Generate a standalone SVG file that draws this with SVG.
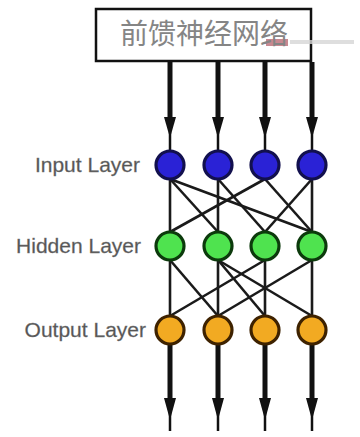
<svg xmlns="http://www.w3.org/2000/svg" width="360" height="437" viewBox="0 0 360 437">
  <style>
    .lbl { font-family: "Liberation Sans", Arial, sans-serif; font-size: 21px; fill: #555555; text-anchor: end; stroke: #777; stroke-width: 0.3; }
    .title { font-family: "Noto Sans CJK SC", "Noto Sans CJK JP", sans-serif; font-size: 28px; fill: #858585; text-anchor: middle; }
    .conn line { stroke: #1a1a1a; stroke-width: 2.6; }
    .arrow line { stroke: #111; stroke-width: 5; }
    .arrow line.tail { stroke-width: 2.5; }
    .arrow polygon { fill: #111; }
    .in { fill: #2a22d6; stroke: #12104e; stroke-width: 3.2; }
    .hid { fill: #4fe34f; stroke: #0c3a0c; stroke-width: 3.2; }
    .out { fill: #f2aa22; stroke: #3e2200; stroke-width: 3.2; }
  </style>
  <rect width="360" height="437" fill="#ffffff"/>

  <g id="title">
    <rect x="96" y="9" width="215" height="52" fill="#ffffff" stroke="#111" stroke-width="2.5"/>
    <rect x="290" y="40" width="64" height="4" fill="#d6d6d6" opacity="0.8"/>
    <rect x="266" y="39" width="22" height="7" fill="#a33a48" opacity="0.6"/>
    <text class="title" x="204" y="44">前馈神经网络</text>
  </g>

  <g id="arrows-in" class="arrow">
    <line x1="170" y1="62" x2="170" y2="124"/>
    <line x1="218" y1="62" x2="218" y2="124"/>
    <line x1="265" y1="62" x2="265" y2="124"/>
    <line x1="312" y1="62" x2="312" y2="124"/>
    <line class="tail" x1="170" y1="130" x2="170" y2="150"/>
    <line class="tail" x1="218" y1="130" x2="218" y2="150"/>
    <line class="tail" x1="265" y1="130" x2="265" y2="150"/>
    <line class="tail" x1="312" y1="130" x2="312" y2="150"/>
    <polygon points="164,117 176,117 170,138"/>
    <polygon points="212,117 224,117 218,138"/>
    <polygon points="259,117 271,117 265,138"/>
    <polygon points="306,117 318,117 312,138"/>
  </g>

  <g id="connectors" class="conn">
    <line x1="170" y1="179" x2="170" y2="232"/>
    <line x1="170" y1="179" x2="218" y2="232"/>
    <line x1="170" y1="179" x2="312" y2="232"/>
    <line x1="218" y1="179" x2="218" y2="232"/>
    <line x1="218" y1="179" x2="265" y2="232"/>
    <line x1="265" y1="179" x2="170" y2="232"/>
    <line x1="265" y1="179" x2="312" y2="232"/>
    <line x1="312" y1="179" x2="265" y2="232"/>
    <line x1="312" y1="179" x2="312" y2="232"/>

    <line x1="170" y1="260" x2="170" y2="316"/>
    <line x1="170" y1="260" x2="218" y2="316"/>
    <line x1="218" y1="260" x2="218" y2="316"/>
    <line x1="218" y1="260" x2="265" y2="316"/>
    <line x1="218" y1="260" x2="312" y2="316"/>
    <line x1="265" y1="260" x2="170" y2="316"/>
    <line x1="265" y1="260" x2="265" y2="316"/>
    <line x1="312" y1="260" x2="218" y2="316"/>
    <line x1="312" y1="260" x2="312" y2="316"/>
  </g>

  <g id="arrows-out" class="arrow">
    <line x1="170" y1="344" x2="170" y2="404"/>
    <line x1="218" y1="344" x2="218" y2="404"/>
    <line x1="265" y1="344" x2="265" y2="404"/>
    <line x1="312" y1="344" x2="312" y2="404"/>
    <line class="tail" x1="170" y1="410" x2="170" y2="431"/>
    <line class="tail" x1="218" y1="410" x2="218" y2="431"/>
    <line class="tail" x1="265" y1="410" x2="265" y2="431"/>
    <line class="tail" x1="312" y1="410" x2="312" y2="431"/>
    <polygon points="164,398 176,398 170,420"/>
    <polygon points="212,398 224,398 218,420"/>
    <polygon points="259,398 271,398 265,420"/>
    <polygon points="306,398 318,398 312,420"/>
  </g>

  <g id="label-input"><text class="lbl" x="140" y="172">Input Layer</text></g>
  <g id="label-hidden"><text class="lbl" x="141" y="253">Hidden Layer</text></g>
  <g id="label-output"><text class="lbl" x="146" y="337">Output Layer</text></g>

  <g id="in1"><circle class="in" cx="170" cy="165" r="14"/></g>
  <g id="in2"><circle class="in" cx="218" cy="165" r="14"/></g>
  <g id="in3"><circle class="in" cx="265" cy="165" r="14"/></g>
  <g id="in4"><circle class="in" cx="312" cy="165" r="14"/></g>

  <g id="hid1"><circle class="hid" cx="170" cy="246" r="14"/></g>
  <g id="hid2"><circle class="hid" cx="218" cy="246" r="14"/></g>
  <g id="hid3"><circle class="hid" cx="265" cy="246" r="14"/></g>
  <g id="hid4"><circle class="hid" cx="312" cy="246" r="14"/></g>

  <g id="out1"><circle class="out" cx="170" cy="330" r="14"/></g>
  <g id="out2"><circle class="out" cx="218" cy="330" r="14"/></g>
  <g id="out3"><circle class="out" cx="265" cy="330" r="14"/></g>
  <g id="out4"><circle class="out" cx="312" cy="330" r="14"/></g>
</svg>
